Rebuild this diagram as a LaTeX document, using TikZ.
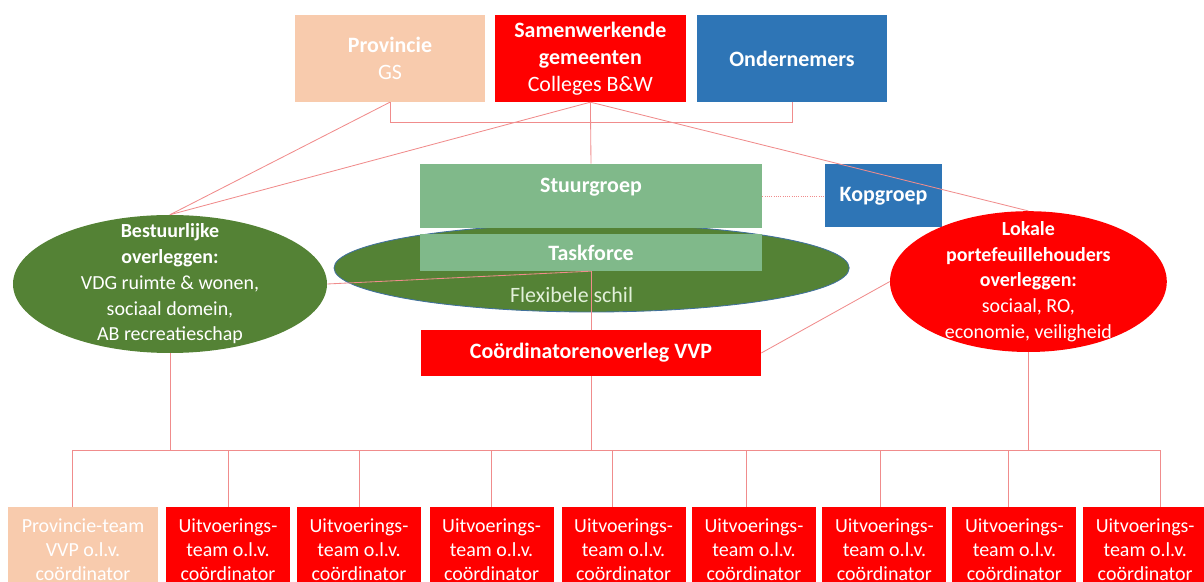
\documentclass[tikz,border=0pt]{standalone}
\usepackage{fontspec}
\setmainfont{Carlito}
\usetikzlibrary{shapes.geometric}

\definecolor{perzik}{HTML}{F8CBAD}
\definecolor{rood}{HTML}{FF0000}
\definecolor{blauw}{HTML}{2E75B6}
\definecolor{lichtgroen}{HTML}{80B98A}
\definecolor{donkergroen}{HTML}{548235}
\definecolor{randblauw}{HTML}{41719C}
\definecolor{flextekst}{HTML}{E2F0D9}
\definecolor{lijn}{HTML}{F08C8C}

\begin{document}
\begin{tikzpicture}[
  kotak/.style={rectangle, inner sep=0pt, text=white, align=center, font=\fontsize{15.6}{19.2}\selectfont},
  kotakbawah/.style={rectangle, inner sep=0pt, text=white, align=center, fill=rood,
    minimum width=3.1cm, minimum height=2.15cm, font=\fontsize{14.2}{17}\selectfont},
  elips/.style={ellipse, inner sep=0pt},
  teks/.style={text=white, align=center, font=\fontsize{14.2}{18.3}\selectfont},
  garis/.style={draw=lijn, line width=0.6pt}
]

% Batas gambar
\useasboundingbox (0,0) rectangle (30.1,14.55);
\clip (0,0) rectangle (30.1,14.55);

% Kotak-kotak atas
\node[kotak, fill=perzik, minimum width=4.75cm, minimum height=2.175cm] (prov) at (9.75,13.09) {\textbf{Provincie}\\GS};
\node[kotak, fill=rood, minimum width=4.775cm, minimum height=2.175cm] (samen) at (14.76,13.09) {\textbf{Samenwerkende}\\\textbf{gemeenten}\\Colleges B\&W};
\node[kotak, fill=blauw, minimum width=4.75cm, minimum height=2.175cm] (onder) at (19.8,13.09) {\textbf{Ondernemers}};

% Elips flexibele schil, lalu kotak hijau di atasnya
\node[elips, fill=donkergroen, draw=randblauw, line width=0.6pt, minimum width=12.88cm, minimum height=2.2cm,
  label={[kotak, text=flextekst, xshift=-0.5cm, yshift=-0.675cm]center:Flexibele schil}] (flex) at (14.79,7.85) {};
\node[kotak, fill=lichtgroen, minimum width=8.55cm, minimum height=1.6cm,
  label={[kotak, yshift=0.225cm]center:\textbf{Stuurgroep}}] (stuur) at (14.775,9.65) {};
\node[kotak, fill=lichtgroen, minimum width=8.55cm, minimum height=0.925cm] (task) at (14.775,8.24) {\textbf{Taskforce}};
\node[kotak, fill=blauw, minimum width=2.925cm, minimum height=1.575cm] (kop) at (22.09,9.65) {\textbf{Kopgroep}};
\node[kotak, fill=rood, minimum width=8.5cm, minimum height=1.15cm] (coord) at (14.775,5.725) {\textbf{Coördinatorenoverleg VVP}};

% Elips kiri dan kanan
\node[elips, fill=donkergroen, minimum width=7.85cm, minimum height=3.45cm,
  label={[teks]center:\textbf{Bestuurlijke}\\\textbf{overleggen:}\\VDG ruimte \& wonen,\\sociaal domein,\\AB recreatieschap}] (best) at (4.25,7.45) {};
\node[elips, fill=rood, minimum width=6.92cm, minimum height=3.52cm,
  label={[teks]center:\textbf{Lokale}\\\textbf{portefeuillehouders}\\\textbf{overleggen:}\\sociaal, RO,\\economie, veiligheid}] (lok) at (25.71,7.51) {};

% Kotak-kotak bawah
\node[kotakbawah, fill=perzik, minimum width=3.75cm] (b1) at (2.075,0.8) {Provincie-team\\VVP o.l.v.\\coördinator};
\foreach \i/\x in {2/5.7, 3/8.975, 4/12.29, 5/15.59, 6/18.85, 7/22.11, 8/25.36, 9/28.63}
  \node[kotakbawah] (b\i) at (\x,0.8) {Uitvoerings-\\team o.l.v.\\coördinator};

% Garis penghubung atas
\draw[garis] (prov.south) -- ++(0,-0.5) -| (onder.south);
\draw[garis] (samen.south) -- (stuur.north);
\draw[garis] (prov.south) -- (best.north);
\draw[garis] (samen.south) -- (best.north);
\draw[garis] (samen.south) -- (lok.north);
\draw[garis, densely dotted] (stuur.east) -- (kop.west);
\draw[garis] (best.east) -- (task.south);
\draw[garis] (task.south) -- (coord.north);
\draw[garis] (coord.east) -- (lok.west);

% Garis ke kotak-kotak bawah
\coordinate (busL) at (1.8,3.3);
\coordinate (busR) at (29.0,3.3);
\draw[garis] (busL) -- (busR);
\draw[garis] (best.south) -- (best.south |- busL);
\draw[garis] (coord.south) -- (coord.south |- busL);
\draw[garis] (lok.south) -- (lok.south |- busL);
\foreach \i/\dx in {1/-0.275, 2/0, 3/0, 4/0, 5/-0.29, 6/-0.2, 7/-0.09, 8/-0.14, 9/0.375}
  \draw[garis] ([xshift=\dx cm]b\i.north) -- ++(0,1.425);
\end{tikzpicture}
\end{document}
